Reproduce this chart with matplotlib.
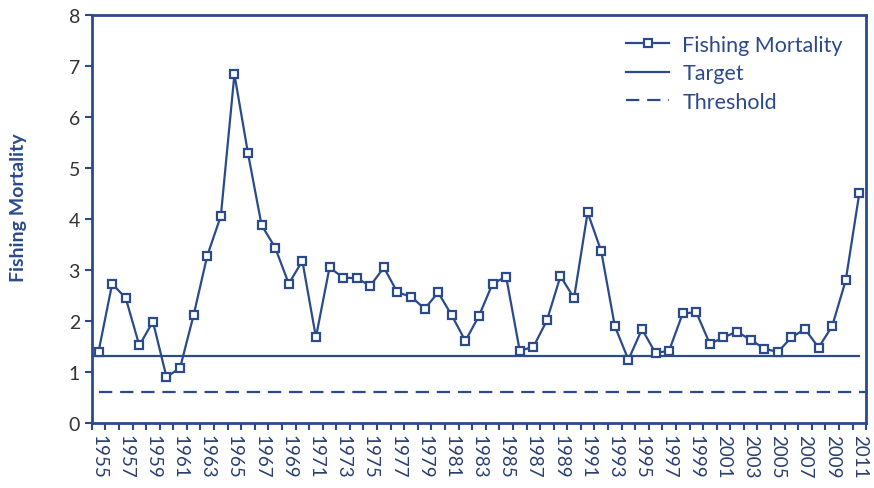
import matplotlib
matplotlib.use("Agg")
import matplotlib.pyplot as plt
import numpy as np

plt.rcParams['font.family'] = ['Lato', 'DejaVu Sans']

years = list(range(1955, 2012))
mortality = [1.40, 2.73, 2.45, 1.52, 1.99, 0.90, 1.08, 2.12, 3.28, 4.06,
             6.84, 5.29, 3.88, 3.44, 2.73, 3.18, 1.68, 3.05, 2.85, 2.84,
             2.69, 3.05, 2.56, 2.48, 2.24, 2.56, 2.11, 1.61, 2.10, 2.73,
             2.87, 1.42, 1.49, 2.01, 2.88, 2.45, 4.13, 3.37, 1.90, 1.24,
             1.84, 1.37, 1.42, 2.15, 2.17, 1.55, 1.68, 1.79, 1.63, 1.46,
             1.39, 1.68, 1.84, 1.48, 1.90, 2.80, 4.51]
target = 1.32
threshold = 0.60

blue = "#2B4A8C"

fig = plt.figure(figsize=(8.74, 4.89), dpi=100)
ax = fig.add_axes([0.105, 0.133, 0.886, 0.834])

x = np.arange(len(years))
ax.plot(x, mortality, color=blue, lw=1.6, marker="s", markersize=6,
        markerfacecolor="white", markeredgecolor=blue, markeredgewidth=1.6,
        label="Fishing Mortality", zorder=3)
ax.plot([-0.5, x[-1]], [target, target], color=blue, lw=1.6, label="Target")
ax.plot([0, x[-1] + 0.5], [threshold, threshold], color=blue, lw=1.6,
        linestyle=(0, (6, 3.5)), label="Threshold")

ax.set_xlim(-0.5, len(years) - 0.5)
ax.set_ylim(0, 8)
ax.set_yticks(range(0, 9))
ax.tick_params(axis="y", labelsize=14, labelcolor="#333333", color=blue,
               width=1.5, length=5, direction="out")

ax.set_xticks(x[::2])
ax.set_xticklabels([str(y) for y in years[::2]], rotation=-90,
                   fontsize=13.5, color="#2A3F70")
ax.set_xticks(np.arange(-0.5, len(years), 1), minor=True)
ax.tick_params(axis="x", which="major", length=0, pad=8)
ax.tick_params(axis="x", which="minor", length=5, width=1.5, color=blue,
               direction="out")

for s in ax.spines.values():
    s.set_color(blue)
    s.set_linewidth(2)

ax.set_ylabel("Fishing Mortality", fontsize=14, fontweight="bold",
              color=blue)
ax.yaxis.set_label_coords(-0.083, 0.53)

leg = ax.legend(loc="upper right", fontsize=15.5, frameon=False,
                handlelength=2.0, handletextpad=0.6, labelspacing=0.4,
                bbox_to_anchor=(0.995, 1.0))
for t in leg.get_texts():
    t.set_color(blue)

fig.savefig("out.png", dpi=100)
